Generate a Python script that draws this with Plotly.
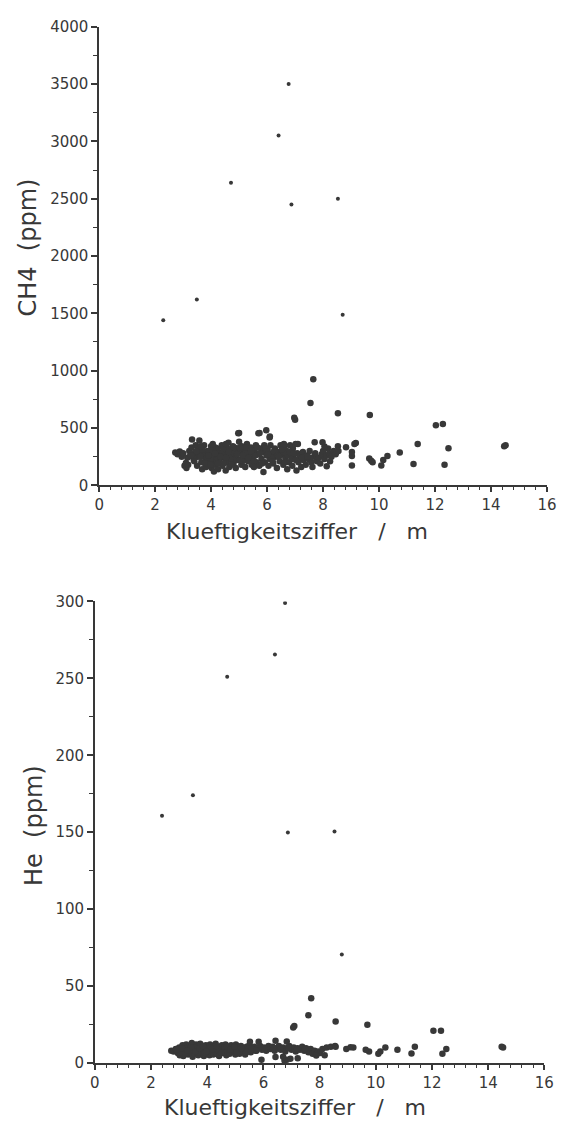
import plotly.graph_objects as go

# ---------------- data ----------------
# Sparse / high points (same samples in both panels)
ch4_high_x = [2.29, 3.49, 4.71, 6.41, 6.77, 6.87, 8.53, 8.70]
ch4_high_y = [1440, 1620, 2640, 3050, 3500, 2450, 2500, 1487]

he_high_x = [2.39, 3.49, 4.71, 6.41, 6.77, 6.87, 8.53, 8.79]
he_high_y = [160.6, 174, 251, 265.5, 299, 149.8, 150.4, 70.5]

# CH4 (ppm) main body
ch4_x = [2.72, 2.80, 2.88, 2.95, 3.00, 3.05, 3.10, 3.12, 3.18, 3.22, 3.25, 3.30, 3.32, 3.38,
         3.42, 3.45, 3.50, 3.52, 3.58, 3.60, 3.65, 3.68, 3.72, 3.75, 3.80, 3.82, 3.88, 3.92,
         3.95, 4.00, 4.02, 4.05, 4.08, 4.10, 4.15, 4.18, 4.22, 4.25, 4.30, 4.32, 4.38, 4.40,
         4.45, 4.48, 4.52, 4.55, 4.58, 4.62, 4.65, 4.70, 4.72, 4.78, 4.80, 4.85, 4.88, 4.92,
         4.95, 5.00, 5.02, 5.08, 5.10, 5.15, 5.20, 5.22, 5.28, 5.32, 5.35, 5.42, 5.45, 5.50,
         5.55, 5.60, 5.62, 5.68, 5.72, 5.78, 5.80, 5.85, 5.90, 5.92, 5.98, 6.02, 6.05, 6.10,
         6.12, 6.18, 6.22, 6.28, 6.30, 6.35, 6.40, 6.45, 6.48, 6.52, 6.58, 6.62, 6.65, 6.70,
         6.72, 6.78, 6.82, 6.85, 6.90, 6.92, 6.98, 7.02, 7.05, 7.08, 7.12, 7.18, 7.22, 7.28,
         7.30, 7.38, 7.42, 7.48, 7.52, 7.58, 7.62, 7.68, 7.72, 7.78, 7.85, 7.90, 7.95, 8.00,
         8.05, 8.12, 8.18, 8.22, 8.30, 8.38, 8.45, 8.48,
         3.35, 3.55, 3.70, 3.85, 4.05, 4.12, 4.20, 4.28, 4.35, 4.42, 4.50, 4.60, 4.68, 4.75,
         4.82, 4.90, 4.98, 5.05, 5.12, 5.25, 5.38, 5.48, 5.58, 5.75, 5.95, 6.15, 6.25, 6.38,
         6.55, 6.75, 6.88, 7.15, 7.35, 7.55, 3.15, 3.28, 4.45, 4.15, 4.58, 4.35, 5.30, 6.60,
         3.40, 3.48, 3.62, 3.78, 3.90, 3.98, 4.06, 4.14, 4.24, 4.33, 4.43, 4.53, 4.63, 4.73,
         4.83, 4.93, 5.03, 5.13, 5.23, 5.33, 5.43, 5.53, 5.65, 5.82, 5.99, 6.20, 6.42, 6.63,
         6.80, 6.95, 7.25, 7.45, 3.62, 4.06, 4.53, 5.03, 5.53, 6.03, 6.53, 7.03,
         4.97, 5.69, 5.97, 6.09, 5.87, 5.00, 5.73, 6.10, 7.00, 6.97, 7.55, 7.65, 8.53, 9.67,
         12.03, 12.28, 11.38, 12.48, 14.47, 14.52, 10.74, 11.23, 12.34, 9.03, 9.03, 9.03, 9.17,
         9.12, 8.82, 8.53, 9.65, 9.72, 9.77, 10.08, 10.15, 10.30, 8.13, 8.05, 7.98, 7.70, 7.10,
         6.60, 8.25, 8.55]
ch4_y = [285, 270, 295, 250, 280, 170, 195, 150, 180, 300, 255, 330, 400, 220,
         285, 350, 170, 250, 390, 310, 200, 140, 270, 350, 230, 160, 300, 200,
         260, 340, 150, 220, 290, 120, 180, 250, 320, 140, 210, 280, 350, 170,
         240, 310, 130, 200, 270, 370, 160, 230, 300, 340, 190, 260, 150, 320,
         220, 380, 280, 180, 340, 240, 300, 160, 360, 210, 270, 330, 180, 250,
         300, 350, 200, 270, 170, 320, 230, 290, 350, 200, 260, 310, 170, 230,
         350, 280, 190, 320, 250, 150, 290, 210, 350, 270, 180, 330, 240, 300,
         140, 200, 350, 260, 170, 320, 230, 360, 130, 280, 200, 250, 160, 290,
         220, 180, 260, 230, 300, 200, 160, 250, 280, 210, 240, 190, 270, 300,
         230, 260, 320, 280, 250, 300, 270, 290,
         250, 280, 310, 240, 270, 300, 200, 230, 260, 290, 330, 300, 260, 220,
         280, 240, 300, 320, 210, 290, 230, 300, 260, 280, 320, 240, 300, 260,
         300, 260, 230, 230, 250, 240, 240, 260, 190, 330, 320, 250, 230, 290,
         210, 300, 340, 190, 260, 180, 310, 280, 190, 250, 320, 240, 290, 180,
         330, 270, 220, 260, 330, 240, 300, 210, 330, 190, 290, 210, 250, 200,
         290, 280, 240, 250, 250, 360, 360, 330, 160, 270, 310, 220,
         454, 454, 479, 417, 115, 457, 457, 426, 572, 590, 718, 924, 628, 614,
         524, 535, 360, 324, 341, 350, 285, 186, 180, 172, 256, 290, 369,
         360, 332, 340, 234, 215, 200, 172, 220, 256, 166, 338, 375, 375, 360,
         360, 210, 300]

# He (ppm) main body
he_x = [2.72, 2.80, 2.88, 2.95, 3.00, 3.02, 3.08, 3.12, 3.15, 3.20, 3.25, 3.28, 3.32, 3.38,
        3.40, 3.45, 3.48, 3.52, 3.55, 3.60, 3.62, 3.68, 3.70, 3.75, 3.80, 3.82, 3.88, 3.90,
        3.95, 4.00, 4.02, 4.08, 4.10, 4.15, 4.20, 4.22, 4.28, 4.30, 4.35, 4.40, 4.42, 4.48,
        4.52, 4.55, 4.60, 4.65, 4.68, 4.72, 4.78, 4.80, 4.85, 4.90, 4.95, 5.00, 5.02, 5.08,
        5.12, 5.15, 5.20, 5.25, 5.30, 5.35, 5.40, 5.45, 5.50, 5.55, 5.60, 5.68, 5.72, 5.80,
        5.88, 5.95, 6.02, 6.10, 6.18, 6.25, 6.32, 6.40, 6.48, 6.55, 6.62, 6.70, 6.78, 6.85,
        6.92, 7.00, 7.08, 7.15, 7.22, 7.30, 7.38, 7.45, 7.52, 7.60, 7.68, 7.75, 7.82, 7.88,
        7.95, 8.02, 8.10, 8.18, 8.25, 8.40, 8.55,
        3.05, 3.18, 3.35, 3.58, 3.78, 3.98, 4.12, 4.25, 4.45, 4.62, 4.75, 4.92, 5.10, 5.28,
        5.48, 3.65, 3.92, 4.38, 4.58, 4.88, 5.18, 5.38,
        3.10, 3.22, 3.42, 3.58, 3.72, 3.85, 3.97, 4.18, 4.32, 4.50, 4.70, 4.83, 4.97, 5.05,
        5.22, 5.42, 5.58, 5.75, 6.05, 6.35, 6.60, 6.90, 7.20, 7.48, 2.90, 3.30,
        5.52, 5.83, 6.43, 6.83, 5.93, 6.43, 6.83, 6.96, 7.22, 6.75, 6.70, 7.88,
        7.70, 7.60, 8.57, 9.70, 7.06, 7.10, 12.05, 12.32, 14.53, 14.48, 12.51, 12.37, 11.39,
        11.27, 10.77, 10.34, 10.16, 10.09, 9.76, 9.64, 9.20, 8.95, 8.57, 9.10]
he_y = [8, 7.5, 9, 6.5, 10, 5, 8, 11.5, 4.5, 7, 12, 9.5, 5.5, 11,
        7.5, 13, 4, 9, 6, 12, 10.5, 5, 8, 12.5, 6.5, 10, 4.5, 8.5,
        11.5, 6, 9.5, 5, 12, 7.5, 10.5, 5.5, 8.5, 12.5, 6, 10, 4.5, 8,
        11.5, 6.5, 9.5, 12, 5, 8, 10.5, 6, 11.5, 7.5, 9.5, 5.5, 12, 8,
        10, 6, 11, 7.5, 9, 5.5, 10.5, 8, 11.5, 7, 9.5, 10.5, 8, 9.5,
        11, 8.5, 10, 8, 11, 9, 10.5, 8, 9.5, 11, 8.5, 10, 7.5, 9.5,
        11, 8.5, 10, 7.5, 9.5, 8.5, 10.5, 8, 9.5, 7, 9, 6, 8, 5.5,
        7.5, 6.5, 9, 5, 10, 10.5, 11,
        7, 9.5, 8, 10, 7, 7.5, 10, 9, 7.5, 10, 9, 8, 8.5, 9.5,
        9, 7, 6.5, 8.5, 7, 8.5, 9, 7,
        9.5, 6, 10, 7.5, 9.5, 11, 7.5, 9, 11, 6.5, 10.5, 8.5, 10.5, 7,
        9.5, 7.5, 9, 8, 9, 10, 9, 10, 9, 9, 8.5, 8,
        13.8, 13.8, 14.4, 14, 2.1, 3.8, 2.1, 2.7, 3, 1.5, 4, 4.9,
        42, 31, 27, 24.8, 23, 24, 21, 21, 10, 10.5, 9, 6, 10.6,
        6.1, 8.5, 10, 7.4, 6, 7.4, 8.5, 10, 9, 10.6, 10.2]

x_title = "Klueftigkeitsziffer   /   m"
ch4_title = "CH4  (ppm)"
he_title = "He  (ppm)"

# ---------------- figure ----------------
ink = "#383838"
fig = go.Figure()
fig.add_trace(go.Scatter(x=ch4_x, y=ch4_y, mode="markers", xaxis="x", yaxis="y",
                         marker=dict(size=6.5, color=ink), showlegend=False))
fig.add_trace(go.Scatter(x=ch4_high_x, y=ch4_high_y, mode="markers", xaxis="x", yaxis="y",
                         marker=dict(size=4, color=ink), showlegend=False))
fig.add_trace(go.Scatter(x=he_x, y=he_y, mode="markers", xaxis="x2", yaxis="y2",
                         marker=dict(size=6.5, color=ink), showlegend=False))
fig.add_trace(go.Scatter(x=he_high_x, y=he_high_y, mode="markers", xaxis="x2", yaxis="y2",
                         marker=dict(size=4, color=ink), showlegend=False))

W, H = 568, 1130
font = dict(family="DejaVu Sans", size=15, color=ink)

def xax(domain, anchor):
    return dict(domain=domain, anchor=anchor, range=[0, 16], dtick=2, tick0=0,
                showline=True, linecolor=ink, linewidth=1.5, ticks="outside",
                ticklen=5, tickwidth=1.5, tickcolor=ink, showgrid=False, zeroline=False,
                tickfont=font,
                minor=dict(dtick=0.4, ticks="outside", ticklen=3, tickwidth=1.2,
                           tickcolor=ink, showgrid=False))

def yax(domain, anchor, rng, dt, mdt):
    return dict(domain=domain, anchor=anchor, range=rng, dtick=dt, tick0=0,
                showline=True, linecolor=ink, linewidth=1.5, ticks="outside",
                ticklen=6, tickwidth=1.5, tickcolor=ink, showgrid=False, zeroline=False,
                tickfont=font,
                minor=dict(dtick=mdt, ticks="outside", ticklen=4, tickwidth=1.2,
                           tickcolor=ink, showgrid=False))

def ann(text, x, y, size, angle=0):
    return dict(text=text, x=x / W, y=(H - y) / H, xref="paper", yref="paper",
                xanchor="center", yanchor="middle", textangle=angle, showarrow=False,
                font=dict(family="DejaVu Sans", size=size, color=ink))

fig.update_layout(
    width=W, height=H, margin=dict(l=0, r=0, t=0, b=0),
    paper_bgcolor="white", plot_bgcolor="white",
    xaxis=xax([96.7 / W, 556.7 / W], "y"),
    yaxis=yax([(H - 484) / H, (H - 18) / H], "x", [0, 4000], 500, 250),
    xaxis2=xax([92.3 / W, 554 / W], "y2"),
    yaxis2=yax([(H - 1071) / H, (H - 602) / H], "x2", [0, 300], 50, 25),
    annotations=[
        ann(x_title, 300, 531, 22),
        ann(x_title, 298, 1116, 22),
        ann(ch4_title, 24, 242, 24, -90),
        ann(he_title, 30, 830, 24, -90),
    ],
)

fig.write_html("out.html")
